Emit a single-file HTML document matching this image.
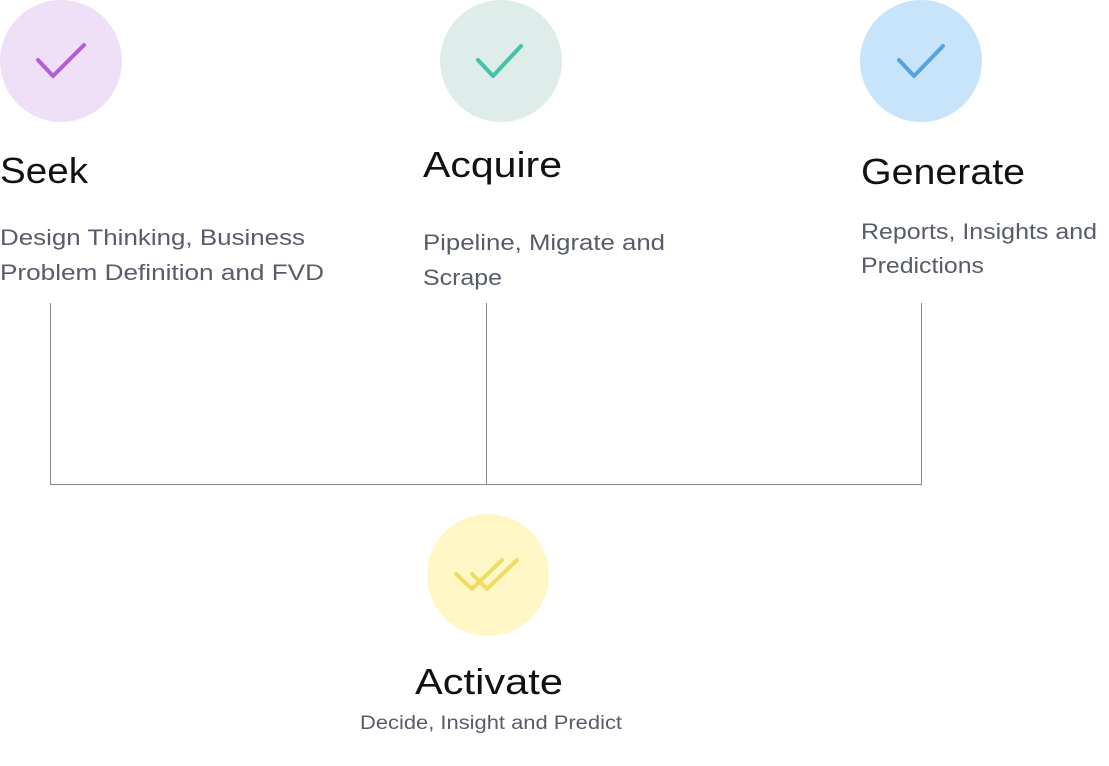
<!DOCTYPE html>
<html><head><meta charset="utf-8"><style>html,body{margin:0;padding:0;background:#fff}svg{display:block}</style></head>
<body>
<svg width="1109" height="766" viewBox="0 0 1109 766" xmlns="http://www.w3.org/2000/svg" font-family="Liberation Sans, sans-serif">
<circle cx="61" cy="61" r="61" fill="#efdff7"/>
<circle cx="501" cy="61" r="61" fill="#deede9"/>
<circle cx="921" cy="61" r="61" fill="#c8e4fb"/>
<circle cx="488" cy="575" r="61" fill="#fff8c6"/>
<g fill="none" stroke-linecap="round" stroke-linejoin="round" stroke-width="4">
<polyline points="38,60 53,76 84,45" stroke="#b25ed9"/>
<polyline points="478,60 493,76 521,46" stroke="#44c2a8"/>
<polyline points="899,60 914,76 943,46" stroke="#56a3e0"/>
<polyline points="456,574 472,589 502,560" stroke="#eddd64"/>
<polyline points="472,574 487,589 517,560" stroke="#eddd64"/>
</g>
<g stroke="#8a8a8a" stroke-width="1" fill="none">
<line x1="50.5" y1="303" x2="50.5" y2="484.5"/>
<line x1="486.5" y1="303" x2="486.5" y2="484.5"/>
<line x1="921.5" y1="303" x2="921.5" y2="484.5"/>
<line x1="50" y1="484.5" x2="922" y2="484.5"/>
</g>
<g fill="#111" font-size="36">
<text x="0" y="183" textLength="88" lengthAdjust="spacingAndGlyphs">Seek</text>
<text x="423" y="177" textLength="139" lengthAdjust="spacingAndGlyphs">Acquire</text>
<text x="861" y="184" textLength="164" lengthAdjust="spacingAndGlyphs">Generate</text>
<text x="415" y="694" textLength="148" lengthAdjust="spacingAndGlyphs">Activate</text>
</g>
<g fill="#585c69" font-size="22">
<text x="0" y="245" textLength="305" lengthAdjust="spacingAndGlyphs">Design Thinking, Business</text>
<text x="0" y="280" textLength="324" lengthAdjust="spacingAndGlyphs">Problem Definition and FVD</text>
<text x="423" y="250" textLength="242" lengthAdjust="spacingAndGlyphs">Pipeline, Migrate and</text>
<text x="423" y="285" textLength="79" lengthAdjust="spacingAndGlyphs">Scrape</text>
<text x="861" y="239" textLength="236" lengthAdjust="spacingAndGlyphs">Reports, Insights and</text>
<text x="861" y="273" textLength="123" lengthAdjust="spacingAndGlyphs">Predictions</text>
<text x="360" y="729" font-size="19" textLength="262" lengthAdjust="spacingAndGlyphs">Decide, Insight and Predict</text>
</g>
</svg>
</body></html>
